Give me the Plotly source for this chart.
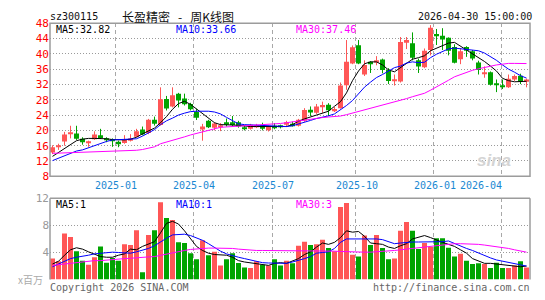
import plotly.graph_objects as go

# ---------------- data ----------------
opens = [14.2, 15.6, 17.1, 19.0, 19.2, 17.8, 16.7, 17.7, 18.7, 17.8,
         17.6, 17.0, 16.7, 17.3, 18.3, 20.2, 19.3, 22.75, 21.4, 28.2,
         26.25, 29.6, 28.3, 26.9, 24.8, 20.2, 22.5, 20.7, 21.0, 22.1,
         22.1, 22.1, 20.8, 20.4, 20.9, 21.4, 20.0, 21.2, 21.1, 21.5,
         21.7, 21.2, 22.5, 25.4, 24.6, 26.25, 26.7, 25.0, 25.8, 31.8,
         37.5, 42.25, 34.6, 37.9, 37.75, 38.5, 35.8, 32.9, 32.75, 42.9,
         42.75, 38.3, 36.5, 41.0, 45.2, 44.75, 44.2, 41.8, 38.6, 41.8,
         40.7, 37.75, 34.8, 35.2, 32.3, 31.8, 31.25, 33.3, 34.3, 32.7]
closes = [15.6, 15.9, 18.9, 19.3, 17.8, 16.9, 17.0, 18.9, 18.0, 17.5,
          17.3, 16.5, 17.5, 17.9, 19.75, 18.9, 22.75, 21.7, 28.1, 25.7,
          29.2, 27.8, 26.8, 25.5, 23.3, 21.0, 20.8, 21.8, 21.3, 21.5,
          21.4, 21.0, 20.5, 21.5, 21.3, 20.4, 21.0, 20.7, 20.9, 22.1,
          21.3, 22.75, 25.3, 24.7, 26.25, 26.6, 25.25, 25.6, 31.7, 37.9,
          41.7, 37.5, 37.1, 37.5, 38.3, 35.8, 32.9, 33.2, 43.1, 43.6,
          39.0, 36.7, 40.8, 46.8, 44.8, 43.75, 40.8, 37.7, 40.7, 40.8,
          38.75, 35.8, 35.2, 31.9, 32.0, 31.5, 33.5, 34.2, 32.7, 33.3]
highs = [16.1, 16.5, 19.6, 21.2, 21.2, 18.2, 17.3, 19.75, 20.4, 18.2,
         17.9, 17.3, 18.75, 19.0, 20.4, 21.0, 23.0, 23.6, 31.25, 29.0,
         31.25, 29.8, 29.6, 27.2, 25.7, 21.7, 22.75, 22.1, 21.9, 23.1,
         23.75, 22.5, 21.25, 21.7, 21.7, 22.0, 21.2, 21.9, 21.5, 22.5,
         22.3, 23.0, 25.8, 26.25, 26.9, 27.5, 27.1, 26.1, 32.5, 43.6,
         42.2, 43.6, 38.3, 38.1, 39.4, 38.75, 36.25, 34.6, 44.4, 44.4,
         45.6, 38.75, 41.4, 47.5, 46.5, 46.7, 44.3, 42.5, 41.5, 42.0,
         41.0, 38.2, 36.7, 35.4, 33.3, 33.3, 34.6, 34.6, 34.8, 33.5]
lows = [13.8, 14.9, 16.0, 17.9, 17.5, 16.25, 15.7, 17.5, 17.75, 16.9,
        15.7, 15.6, 16.5, 17.1, 18.2, 18.7, 19.0, 21.25, 21.25, 25.2,
        26.0, 26.0, 26.5, 25.2, 22.7, 17.3, 20.6, 20.0, 19.8, 21.0,
        21.0, 20.7, 20.0, 20.2, 20.6, 20.0, 19.7, 20.3, 20.5, 21.0,
        21.0, 21.0, 22.25, 23.75, 24.3, 24.6, 23.75, 24.8, 25.7, 30.6,
        37.3, 37.3, 34.2, 35.0, 37.0, 34.9, 32.1, 31.7, 32.5, 41.25,
        38.3, 35.0, 36.25, 39.6, 42.3, 41.0, 39.6, 37.5, 37.3, 39.2,
        38.3, 34.6, 33.75, 31.7, 30.0, 30.8, 31.1, 32.9, 32.1, 31.25]
volumes = [3.1, 2.7, 6.8, 6.3, 4.2, 2.8, 2.2, 3.3, 4.9, 2.5,
           3.2, 2.8, 5.2, 5.1, 7.3, 1.1, 6.6, 7.3, 11.4, 9.1,
           8.8, 5.5, 5.4, 3.9, 3.0, 5.8, 3.6, 4.1, 2.1, 3.0,
           3.9, 2.45, 1.8, 1.7, 2.7, 2.2, 2.1, 3.0, 2.1, 2.8,
           2.4, 5.0, 5.6, 5.1, 5.2, 5.9, 4.65, 4.2, 10.7, 11.3,
           3.65, 3.4, 6.5, 5.1, 6.6, 4.65, 3.0, 3.1, 7.2, 8.5,
           7.2, 4.5, 5.4, 4.8, 6.1, 6.1, 4.7, 3.4, 3.8, 2.8,
           2.3, 2.4, 2.3, 1.7, 2.5, 1.7, 1.7, 2.1, 2.7, 1.8]
ma5 = [13.2, 14.2, 15.2, 16.3, 17.3, 17.7, 17.9, 17.9, 17.9, 17.8,
       17.6, 17.5, 17.5, 17.7, 18.2, 19.1, 19.9, 20.6, 22.0, 23.6,
       25.5, 27.0, 27.6, 26.8, 25.6, 24.4, 23.2, 22.0, 21.5, 21.5,
       21.4, 21.3, 21.1, 21.0, 21.0, 21.0, 21.0, 21.0, 21.0, 21.0,
       21.5, 22.4, 23.0, 23.5, 24.0, 24.3, 25.0, 26.3, 27.5, 29.8,
       33.0, 35.5, 37.4, 37.9, 37.9, 37.1, 35.8, 35.3, 36.4, 37.6,
       38.6, 39.0, 39.5, 40.8, 41.5, 42.1, 42.8, 43.0, 42.0, 41.2,
       40.1, 39.0, 38.0, 36.8, 35.5, 33.6, 33.0, 32.7, 32.7, 32.82]
ma10 = [12.1, 12.7, 13.3, 14.0, 14.6, 14.9, 15.5, 16.1, 16.7, 17.1,
        17.5, 17.6, 17.7, 17.8, 17.8, 18.5, 19.3, 20.2, 21.5, 22.5,
        23.2, 24.0, 24.5, 24.9, 25.0, 25.0, 25.0, 24.8, 24.3, 23.4,
        22.6, 21.7, 21.5, 21.4, 21.3, 21.25, 21.2, 21.1, 21.0, 21.0,
        21.2, 21.6, 22.1, 22.6, 23.1, 23.4, 23.8, 24.3, 25.3, 26.5,
        27.8, 29.7, 31.3, 32.6, 33.8, 34.6, 35.5, 36.4, 36.8, 37.6,
        37.9, 37.7, 37.8, 39.0, 39.9, 40.6, 41.3, 41.5, 41.3, 41.1,
        40.9, 40.8, 40.2, 39.3, 38.3, 37.1, 36.0, 35.2, 34.3, 33.66]
ma30 = [14.0, 14.05, 14.1, 14.2, 14.25, 14.3, 14.35, 14.4, 14.45, 14.5,
        14.55, 14.6, 14.65, 14.7, 14.8, 15.0, 15.3, 15.7, 16.5, 16.9,
        17.3, 17.8, 18.3, 18.8, 19.2, 19.6, 20.0, 20.5, 20.8, 20.9,
        21.0, 21.1, 21.2, 21.3, 21.3, 21.4, 21.5, 21.6, 21.8, 22.0,
        22.25, 22.45, 22.7, 22.95, 23.2, 23.35, 23.5, 23.65, 23.75, 24.1,
        24.5, 25.0, 25.5, 25.9, 26.3, 26.7, 27.1, 27.4, 27.8, 28.3,
        28.8, 29.3, 29.7, 30.5, 31.3, 32.2, 33.1, 34.0, 34.6, 35.2,
        35.7, 36.1, 36.5, 36.8, 37.1, 37.3, 37.5, 37.5, 37.5, 37.46]
vma5 = [2.3, 2.7, 3.6, 4.4, 4.7, 4.5, 4.1, 3.7, 3.4, 3.3,
        3.3, 3.6, 3.8, 4.5, 4.4, 4.9, 5.3, 5.6, 6.9, 8.3,
        8.6, 8.2, 7.2, 6.0, 4.9, 4.3, 3.9, 3.7, 3.6, 3.6,
        3.3, 2.8, 2.6, 2.5, 2.4, 2.3, 2.1, 2.4, 2.5, 2.4,
        2.7, 3.1, 3.7, 4.1, 4.8, 5.4, 5.2, 5.5, 6.2, 7.2,
        7.0, 7.1, 6.4, 5.4, 5.3, 5.2, 4.8, 4.6, 5.0, 5.3,
        6.0, 6.3, 6.5, 6.2, 5.8, 5.5, 5.2, 4.9, 4.4, 3.9,
        3.1, 2.7, 2.4, 2.4, 2.3, 2.2, 2.0, 1.95, 1.9, 2.0]
vma10 = [1.9, 2.3, 2.8, 3.1, 3.3, 3.4, 3.6, 3.8, 3.9, 4.0,
         4.05, 4.0, 3.9, 3.9, 4.1, 4.3, 4.6, 5.0, 5.6, 6.1,
         6.6, 6.7, 6.7, 6.5, 6.2, 5.8, 5.3, 4.7, 4.2, 3.8,
         3.5, 3.3, 3.1, 2.9, 2.7, 2.5, 2.45, 2.4, 2.4, 2.4,
         2.6, 2.8, 3.1, 3.4, 3.9, 4.0, 4.1, 4.6, 5.5, 6.0,
         6.0, 6.0, 6.1, 6.1, 6.0, 5.9, 5.6, 5.3, 5.4, 5.5,
         5.55, 5.55, 5.55, 5.55, 5.55, 5.6, 5.7, 5.3, 4.9, 4.6,
         4.3, 3.9, 3.6, 3.2, 2.9, 2.7, 2.5, 2.3, 2.2, 2.0]
vma30 = [2.1, 2.2, 2.4, 2.5, 2.6, 2.7, 2.8, 2.8, 2.8, 2.9,
         3.0, 3.05, 3.1, 3.15, 3.25, 3.3, 3.35, 3.4, 3.6, 3.8,
         4.0, 4.1, 4.3, 4.45, 4.55, 4.65, 4.65, 4.65, 4.65, 4.65,
         4.6, 4.5, 4.4, 4.35, 4.3, 4.3, 4.3, 4.25, 4.25, 4.25,
         4.3, 4.3, 4.3, 4.3, 4.3, 4.3, 4.25, 4.2, 4.15, 4.1,
         4.05, 4.05, 4.05, 4.05, 4.1, 4.1, 4.2, 4.3, 4.4, 4.5,
         4.7, 4.8, 4.9, 5.0, 5.1, 5.2, 5.25, 5.3, 5.3, 5.3,
         5.25, 5.2, 5.1, 5.0, 4.9, 4.75, 4.6, 4.4, 4.2, 4.05]
month_labels = ["2025-01", "2025-04", "2025-07", "2025-10", "2026-01", "2026-04"]
price_ticks = [8, 12, 16, 20, 24, 28, 32, 36, 40, 44, 48]
vol_ticks = [4, 8, 12]

# ---------------- layout constants ----------------
W, H = 545, 300
X0, X1 = 50, 530
P_TOP, P_BOT = 18, 178
V_TOP, V_BOT = 201, 286
grid_pos = [10.58, 23.58, 36.7, 50.58, 63.58, 74.75]
label_pos = [10.5, 23.6, 36.75, 50.75, 63.75, 71.4]
RED, GREEN = "#ff5656", "#00a400"
MONO = "DejaVu Sans Mono"
CJK = "Noto Sans CJK SC"

def px(x):
    return x / W

def py(y):
    return 1 - y / H

n = len(closes)
idx = list(range(n))
up = [c >= o for o, c in zip(opens, closes)]
colors = [RED if u else GREEN for u in up]

fig = go.Figure()

# wicks
for flag, col in ((True, RED), (False, GREEN)):
    wx, wy = [], []
    for i in idx:
        if up[i] == flag:
            wx += [i, i, None]
            wy += [lows[i], highs[i], None]
    fig.add_trace(go.Scatter(x=wx, y=wy, mode="lines", line=dict(color=col, width=1),
                             xaxis="x", yaxis="y", hoverinfo="skip"))

# bodies
fig.add_trace(go.Bar(x=idx, y=[max(abs(c - o), 0.25) for o, c in zip(opens, closes)],
                     base=[min(o, c) for o, c in zip(opens, closes)],
                     width=5 / 6, marker=dict(color=colors, line=dict(width=0)),
                     xaxis="x", yaxis="y"))

for arr, col in ((ma5, "black"), (ma10, "#0000ff"), (ma30, "#ff00ff")):
    fig.add_trace(go.Scatter(x=idx, y=arr, mode="lines", line=dict(color=col, width=1),
                             xaxis="x", yaxis="y"))

# volume
fig.add_trace(go.Bar(x=idx, y=volumes, width=5 / 6,
                     marker=dict(color=colors, line=dict(width=0)),
                     xaxis="x2", yaxis="y2"))
for arr, col in ((vma5, "black"), (vma10, "#0000ff"), (vma30, "#ff00ff")):
    fig.add_trace(go.Scatter(x=idx, y=arr, mode="lines", line=dict(color=col, width=1),
                             xaxis="x2", yaxis="y2"))

xr = [-0.5 + 1 / 12, n - 0.5 + 1 / 12]
xcommon = dict(domain=[px(X0), px(X1)], range=xr, showticklabels=False, tickvals=grid_pos,
               showgrid=True, gridcolor="#a8a8a8", griddash="4px,3px", gridwidth=1,
               zeroline=False, showline=False, ticks="", fixedrange=True)

fig.update_layout(
    width=W, height=H, margin=dict(l=0, r=0, t=0, b=0),
    paper_bgcolor="white", plot_bgcolor="white", showlegend=False,
    barmode="overlay",
    xaxis=dict(anchor="y", **xcommon),
    xaxis2=dict(anchor="y2", matches="x", **xcommon),
    yaxis=dict(domain=[py(P_BOT), py(P_TOP)], range=[8, 48], tickvals=price_ticks,
               ticktext=[str(t) for t in price_ticks], showgrid=True, gridcolor="#9a9a9a",
               griddash="1px,2px", gridwidth=1, zeroline=False, ticks="",
               tickfont=dict(family=MONO, size=11, color="#ff0000"), anchor="x"),
    yaxis2=dict(domain=[py(V_BOT), py(V_TOP)], range=[0, 12], tickvals=vol_ticks,
                ticktext=[str(t) for t in vol_ticks], showgrid=True, gridcolor="#9a9a9a",
                griddash="1px,2px", gridwidth=1, zeroline=False, ticks="",
                tickfont=dict(family=MONO, size=11, color="#999999"), anchor="x2"),
)

border = dict(color="#9c9c9c", width=1.5)
fig.add_shape(type="rect", xref="paper", yref="paper", x0=px(X0), x1=px(X1),
              y0=py(P_BOT), y1=py(P_TOP), line=border, layer="above")
for (xa, ya, xb, yb) in ((X0, V_BOT, X0, V_TOP), (X0, V_TOP, X1, V_TOP), (X1, V_TOP, X1, V_BOT)):
    fig.add_shape(type="line", xref="paper", yref="paper", x0=px(xa), y0=py(ya),
                  x1=px(xb), y1=py(yb), line=border, layer="above")

def txt(s, x, y, color="black", size=10, family=MONO, anchor="left", xref="paper"):
    fig.add_annotation(text=s, x=x if xref != "paper" else px(x), y=py(y), xref=xref,
                       yref="paper", xanchor=anchor, yanchor="middle", showarrow=False,
                       font=dict(family=family, size=size, color=color), borderpad=0)

NB = "\u00a0"
# header
txt("sz300115", 49, 11, "#111111")
txt("长盈精密" + NB * 3 + "-" + NB * 3 + "周K线图", 121, 11, "#111111", 12, CJK)
txt("2026-04-30 15:00:00", 533, 11, "#111111", anchor="right")
# legends
txt("MA5:%.2f" % ma5[-1], 55, 25, "black")
txt("MA10:%.2f" % ma10[-1], 175, 25, "#0000ff")
txt("MA30:%.2f" % ma30[-1], 295, 25, "#ff00ff")
txt("MA5:1", 55, 207, "black")
txt("MA10:1", 175, 207, "#0000ff")
txt("MA30:3", 295, 207, "#ff00ff")
# month labels
for lab, pos in zip(month_labels, label_pos):
    txt(lab, pos, 188, "#1a88d2", 10, MONO, "center", xref="x")
# footer
txt("x百万", 44, 286, "#aaaaaa", 10, CJK, "right")
txt("Copyright 2026 SINA.COM", 49, 294, "#666666")
txt("http://finance.sina.com.cn", 531, 294, "#666666", anchor="right")
# watermark
fig.add_annotation(text="<b><i>sina</i></b>", x=px(513), y=py(162), xref="paper", yref="paper",
                   showarrow=False, font=dict(family="Liberation Sans", size=17, color="#d4d4d4"))

fig.write_html("out.html")
